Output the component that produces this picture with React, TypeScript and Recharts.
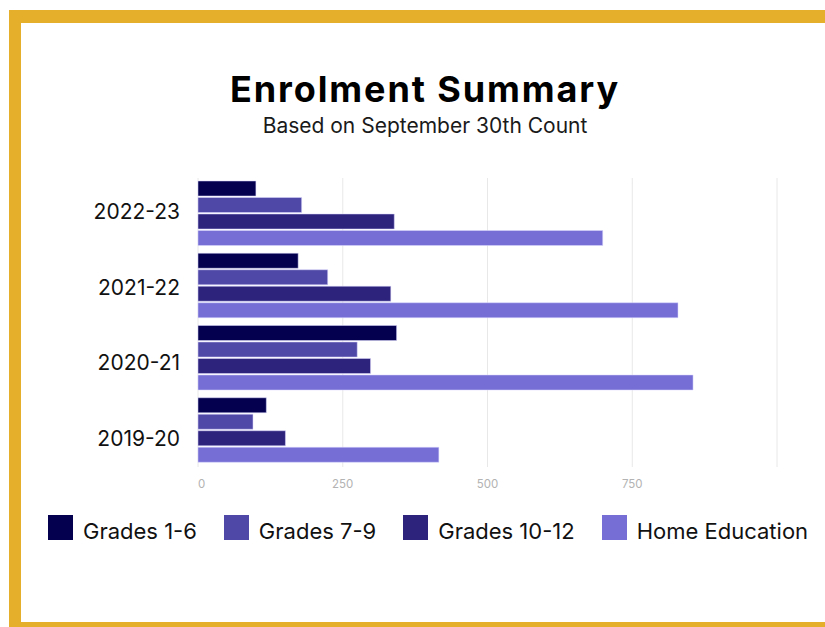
import React from 'react';
import { BarChart, Bar, XAxis, YAxis, CartesianGrid } from 'recharts';

const years = ['2022-23', '2021-22', '2020-21', '2019-20'];
const grades1to6 = [100, 173, 343, 118];
const grades7to9 = [179, 224, 275, 95];
const grades10to12 = [339, 333, 298, 151];
const homeEducation = [699, 829, 855, 416];

const seriesNames = ['Grades 1-6', 'Grades 7-9', 'Grades 10-12', 'Home Education'];
const seriesKeys = ['g16', 'g79', 'g1012', 'home'];
const seriesColors = ['#04004F', '#5048A6', '#2E237C', '#766ED4'];
const xTicks = [0, 250, 500, 750, 1000];

const data = years.map((year, i) => ({
  year,
  g16: grades1to6[i],
  g79: grades7to9[i],
  g1012: grades10to12[i],
  home: homeEducation[i],
}));

const FONT = 'Inter, "Noto Sans", sans-serif';

const YTick = (props: any) => {
  const { x, y, payload, index } = props;
  const i = typeof index === 'number' ? index : years.indexOf(payload.value);
  const shift = 4.9 + i * 3.37;
  return (
    <text x={x} y={y + shift} textAnchor="end" fontFamily={FONT} fontSize={21} fill="#111">
      {payload.value}
    </text>
  );
};

const XTick = (props: any) => {
  const { x, y, payload } = props;
  if (payload.value === 1000) return <g />;
  return (
    <text
      x={x}
      y={y + 13}
      textAnchor={payload.value === 0 ? 'start' : 'middle'}
      fontFamily={FONT}
      fontSize={11.5}
      fill="#b3b3b3"
    >
      {payload.value}
    </text>
  );
};

export default function App() {
  return (
    <div
      style={{
        position: 'absolute',
        left: 0,
        top: 0,
        width: 825,
        height: 627,
        overflow: 'hidden',
        background: '#fff',
      }}
    >
      <div
        style={{
          position: 'absolute',
          left: 9,
          top: 10,
          width: 840,
          height: 625,
          boxSizing: 'border-box',
          borderStyle: 'solid',
          borderColor: '#E5AF2B',
          borderWidth: '13px 13px 13px 12px',
        }}
      />
      <svg
        width={825}
        height={160}
        style={{ position: 'absolute', left: 0, top: 0 }}
      >
        <text
          x={425}
          y={102}
          textAnchor="middle"
          fontFamily={FONT}
          fontWeight={700}
          fontSize={36}
          letterSpacing={1.9}
          fill="#000"
        >
          Enrolment Summary
        </text>
        <text
          x={425}
          y={133}
          textAnchor="middle"
          fontFamily={FONT}
          fontWeight={400}
          fontSize={21}
          fill="#1a1a1a"
        >
          Based on September 30th Count
        </text>
      </svg>
      <div style={{ position: 'absolute', left: 0, top: 0 }}>
        <BarChart
          width={825}
          height={500}
          data={data}
          layout="vertical"
          margin={{ top: 178, right: 48, left: 0, bottom: 0 }}
          barCategoryGap={3}
          barGap={1.5}
        >
          <CartesianGrid horizontal={false} vertical={true} stroke="#e8e8e8" />
          <XAxis
            type="number"
            domain={[0, 1000]}
            ticks={xTicks}
            axisLine={false}
            tickLine={false}
            height={33}
            tick={<XTick />}
          />
          <YAxis
            type="category"
            dataKey="year"
            width={198}
            axisLine={false}
            tickLine={false}
            tickSize={0}
            tickMargin={18}
            tick={<YTick />}
          />
          {seriesKeys.map((k, i) => (
            <Bar
              key={k}
              dataKey={k}
              name={seriesNames[i]}
              fill={seriesColors[i]}
              stroke="rgba(220,215,255,0.5)"
              strokeWidth={1}
              isAnimationActive={false}
            />
          ))}
        </BarChart>
      </div>
      <div
        style={{
          position: 'absolute',
          left: 48,
          top: 515,
          display: 'flex',
          alignItems: 'flex-start',
          fontFamily: FONT,
          fontSize: 22,
          color: '#111',
        }}
      >
        {seriesNames.map((n, i) => (
          <div key={n} style={{ display: 'flex', alignItems: 'flex-start', marginRight: 27 }}>
            <div style={{ width: 25, height: 25, background: seriesColors[i], marginRight: 10 }} />
            <div style={{ lineHeight: '25px', position: 'relative', top: 4, whiteSpace: 'nowrap' }}>{n}</div>
          </div>
        ))}
      </div>
    </div>
  );
}
